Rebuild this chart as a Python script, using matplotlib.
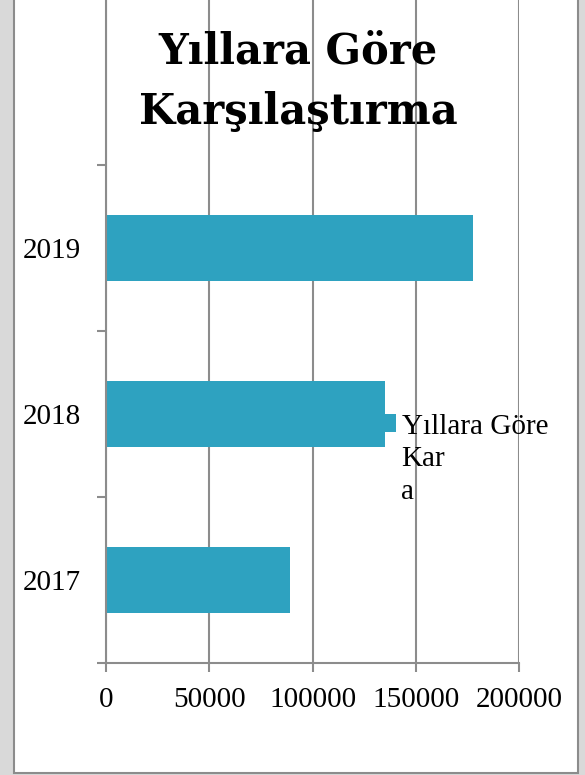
import matplotlib
matplotlib.use("Agg")
import matplotlib.pyplot as plt
from matplotlib.patches import Rectangle

years = ["2017", "2018", "2019"]
values = [89300, 135000, 177500]
xticks = [0, 50000, 100000, 150000, 200000]
title = "Yıllara Göre\nKarşılaştırma"
series_name = "Yıllara Göre\nKar\na"

W, H = 585, 775
bar_color = "#2ea2c0"
line_gray = "#8c8c8c"

fig = plt.figure(figsize=(W / 100, H / 100), dpi=100, facecolor="#d9d9d9")

# white slide panel with grey frame
fig.patches.append(Rectangle((14 / W, 2 / H), 564 / W, 1.0, transform=fig.transFigure,
                             facecolor="white", edgecolor=line_gray, lw=1.5, zorder=-1))

ax = fig.add_axes([106 / W, 112 / H, 413 / W, 1 - 112 / H])
ax.set_facecolor("white")
ax.set_axisbelow(True)

pos = list(range(len(years)))
ax.barh(pos, values, height=0.4, color=bar_color, label=series_name)

ax.set_xlim(0, 200000)
ax.set_ylim(-0.5, -0.5 + 663 / 166)
ax.set_xticks(xticks)
ax.set_xticklabels([str(t) for t in xticks])
ax.set_yticks(pos)
ax.set_yticklabels(years)
ax.set_yticks([-0.5, 0.5, 1.5, 2.5], minor=True)

ax.grid(axis="x", color=line_gray, lw=1.5)
for s in ["top", "right"]:
    ax.spines[s].set_visible(False)
for s in ["left", "bottom"]:
    ax.spines[s].set_color(line_gray)
    ax.spines[s].set_linewidth(1.5)

lbl_font = dict(family="Liberation Serif", size=21)
ax.tick_params(axis="y", which="major", length=0, pad=18, labelsize=21)
ax.tick_params(axis="y", which="minor", length=6.5, width=1.5, color=line_gray)
ax.tick_params(axis="x", length=6.5, width=1.5, color=line_gray, pad=10.5, labelsize=21)
for t in ax.get_xticklabels() + ax.get_yticklabels():
    t.set_family("Liberation Serif")

leg = ax.legend(loc="upper left", bbox_to_anchor=(384 / W, 1 - 414 / H),
                bbox_transform=fig.transFigure, frameon=False, borderpad=0,
                borderaxespad=0, handlelength=0.42, handleheight=0.56,
                handletextpad=0.18, prop=lbl_font)
leg.texts[0].set_linespacing(1.32)
# put the colour key next to the first line of the label
for col in leg._legend_handle_box.get_children():
    for row in col.get_children():
        row.align = "top"

fig.text(298 / W, 1 - 82 / H, title, ha="center", va="center", family="DejaVu Serif",
         fontweight="bold", fontsize=30, linespacing=1.56)

fig.savefig("out.png", dpi=100, facecolor=fig.get_facecolor())
